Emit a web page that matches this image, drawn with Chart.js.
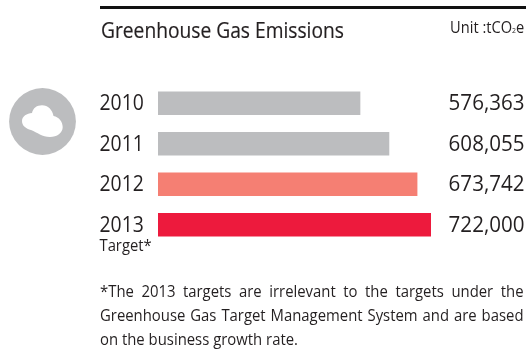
<!DOCTYPE html>
<html>
<head>
<meta charset="utf-8">
<style>
  html, body { margin: 0; padding: 0; background: #fff; }
  #wrap { position: relative; width: 526px; height: 349px; overflow: hidden; font-family: "Open Sans", sans-serif; color: #231f20; }
  #myChart { position: absolute; left: 0; top: 0; }
  #rule { position: absolute; left: 100px; top: 6px; width: 426px; height: 3px; background: #111; }
  #title { position: absolute; left: 100.5px; top: 15px; font-size: 22px; line-height: 29px; white-space: nowrap; transform-origin: left top; transform: scaleX(0.873); -webkit-text-stroke: 0.2px #231f20; }
  #unit { position: absolute; right: 2px; top: 16px; font-size: 17px; line-height: 22px; white-space: nowrap; transform-origin: right top; transform: scaleX(0.86); }
  #unit sub { font-size: 8px; vertical-align: baseline; }
  #note { position: absolute; left: 99.5px; top: 279px; width: 484px; font-size: 17px; line-height: 24.2px; transform-origin: left top; transform: scaleX(0.875); }
  #note div { white-space: nowrap; }
  #note .just { white-space: normal; text-align: justify; text-align-last: justify; }
  #icon { position: absolute; left: 9px; top: 88px; }
</style>
</head>
<body>
<div id="wrap">
  <canvas id="myChart" width="526" height="349"></canvas>
  <div id="rule"></div>
  <div id="title">Greenhouse Gas Emissions</div>
  <div id="unit">Unit :tCO<sub>2</sub>e</div>
  <svg id="icon" width="67" height="67" viewBox="0 0 67 67">
    <circle cx="33.5" cy="33.5" r="33.4" fill="#bcbdbf"/>
    <path d="M13 33 C13 28 18 25.5 23 25 C24 20 28 17.3 33 17.3 C39 17.3 43.5 22 44.5 28 C50 29 53.7 34 53.7 39 C53.7 45 48 49 41 49 C33 49 28.5 44.5 22 42 C17 40.5 13 38 13 33 Z" fill="#fff"/>
  </svg>
  <div id="note">
    <div class="just">*The 2013 targets are irrelevant to the targets under the</div>
    <div class="just">Greenhouse Gas Target Management System and are based</div>
    <div>on the business growth rate.</div>
  </div>
</div>
<script src="https://cdn.jsdelivr.net/npm/chart.js@4"></script>
<script>
const years = ['2010', '2011', '2012', '2013'];
// printed figures, tCO2e
const emissions = [576363, 608055, 673742, 722000];
// the bars in the picture are not to scale with the printed figures,
// so their lengths are read separately, as % of the longest bar
const barLengths = [74, 84.6, 94.9, 100];
const barColors = ['#bcbdbf', '#bcbdbf', '#f57f73', '#ed1a3d'];
const yearNote = 'Target*';

const FONT = '"Open Sans", sans-serif';

// horizontally squeezed text, the installed fonts are all wider than the original
function squeezed(ctx, text, x, y, size, squeeze, align) {
    ctx.save();
    ctx.font = size + 'px ' + FONT;
    ctx.fillStyle = '#231f20';
    ctx.textAlign = align;
    ctx.textBaseline = 'middle';
    ctx.translate(x, y);
    ctx.scale(squeeze, 1);
    ctx.fillText(text, 0, 0);
    ctx.restore();
}

// year names on the left and emissions figures on the right of each row
const rowLabels = {
    id: 'rowLabels',
    afterDatasetsDraw(chart) {
        const { ctx, scales: { y } } = chart;
        years.forEach((year, i) => {
            const py = y.getPixelForValue(i) + 0.5;
            squeezed(ctx, year, 99.5, py, 22, 0.88, 'left');
            squeezed(ctx, emissions[i].toLocaleString('en-US'), 524.5, py, 22, 0.935, 'right');
        });
        squeezed(ctx, yearNote, 99.5, y.getPixelForValue(3) + 21.5, 17, 0.87, 'left');
    }
};

const ctx = document.getElementById('myChart');

const myChart = new Chart(ctx, {
    type: 'bar',
    data: {
        labels: years,
        datasets: [{
            label: 'Greenhouse Gas Emissions',
            data: barLengths,
            backgroundColor: barColors,
            barThickness: 23
        }]
    },
    options: {
        indexAxis: 'y',
        responsive: false,
        animation: false,
        layout: { padding: { left: 158, right: 95, top: 83, bottom: 104 } },
        plugins: { legend: { display: false }, tooltip: { enabled: false } },
        scales: {
            x: { display: false, min: 0, max: 100 },
            y: { display: false }
        }
    },
    plugins: [rowLabels]
});
</script>
</body>
</html>
